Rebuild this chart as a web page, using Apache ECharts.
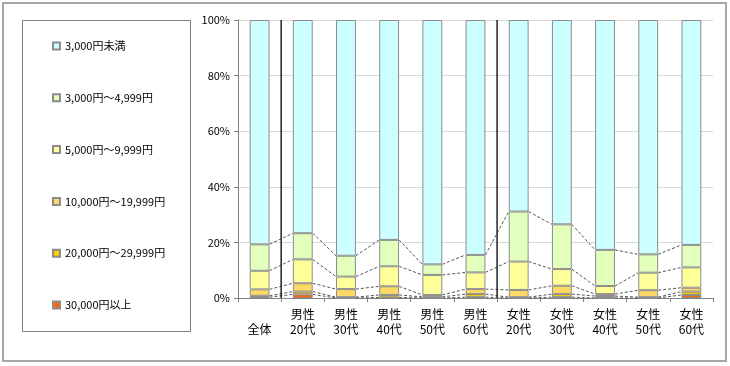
<!DOCTYPE html>
<html><head><meta charset="utf-8">
<script src="https://cdn.jsdelivr.net/npm/echarts@6/dist/echarts.min.js"></script>
<style>html,body{margin:0;padding:0;background:#fff}#c{width:730px;height:366px}</style>
</head><body><div id="c"></div>
<script>
var categories = ['全体','男性\n20代','男性\n30代','男性\n40代','男性\n50代','男性\n60代','女性\n20代','女性\n30代','女性\n40代','女性\n50代','女性\n60代'];
var seriesNames = ['30,000円以上','20,000円～29,999円','10,000円～19,999円','5,000円～9,999円','3,000円～4,999円','3,000円未満'];
var s30000 = [0.3, 1.3, 0.0, 0.2, 0.0, 0.3, 0.0, 0.3, 0.0, 0.0, 1.1];
var s20000 = [0.5, 1.0, 0.3, 0.9, 0.4, 1.1, 0.3, 1.1, 0.7, 0.3, 1.2];
var s10000 = [2.3, 3.0, 2.9, 3.1, 0.7, 1.8, 2.6, 3.0, 0.7, 2.5, 1.4];
var s5000  = [6.7, 8.6, 4.5, 7.2, 7.2, 6.0, 10.2, 6.0, 2.9, 6.3, 7.3];
var s3000  = [9.5, 9.4, 7.5, 9.5, 3.8, 6.3, 18.0, 16.1, 13.0, 6.6, 8.1];
var sUnder = [80.7, 76.7, 84.8, 79.1, 87.9, 84.5, 68.9, 73.5, 82.7, 84.3, 80.9];
var yTicks = [0, 20, 40, 60, 80, 100];
var separatorsAfter = [0, 5];

var values = [s30000, s20000, s10000, s5000, s3000, sUnder];
var colors = ['#FF6600', '#FFCC00', '#FFD966', '#FFFF99', '#E2FFBC', '#CCFFFF'];
var BAR_RATIO = 0.46;

// cumulative levels for series lines
var cum = values.map(function(){return [];});
for (var i = 0; i < categories.length; i++) {
  var acc = 0;
  for (var k = 0; k < values.length; k++) { acc += values[k][i]; cum[k][i] = acc; }
}

var font = '"Noto Sans CJK JP", "Noto Sans", sans-serif';
var chart = echarts.init(document.getElementById('c'));
var barSeries = seriesNames.map(function(n, k){
  return {
    name: n, type: 'bar', stack: 'total', barWidth: (BAR_RATIO*100)+'%',
    data: values[k],
    itemStyle: {color: colors[k], borderColor: '#8c8c8c', borderWidth: 1},
    emphasis: {disabled: true}, z: 3
  };
});
var custom = {
  type: 'custom', name: 'lines', silent: true, z: 2,
  data: categories.map(function(c, i){ return [i, 0]; }),
  renderItem: function(params, api){
    var i = api.value(0);
    var band = api.size([1, 0])[0];
    var hw = band * BAR_RATIO / 2;
    var children = [];
    if (i < categories.length - 1) {
      for (var k = 0; k < 5; k++) {
        var p1 = api.coord([i, cum[k][i]]);
        var p2 = api.coord([i+1, cum[k][i+1]]);
        children.push({type: 'line', shape: {x1: p1[0]+hw, y1: p1[1], x2: p2[0]-hw, y2: p2[1]},
          style: {stroke: '#555', lineWidth: 1, lineDash: [3, 2]}});
      }
    }
    if (separatorsAfter.indexOf(i) >= 0) {
      var b = api.coord([i, 0]), t = api.coord([i, 100]);
      children.push({type: 'line', shape: {x1: b[0]+band/2, y1: b[1], x2: b[0]+band/2, y2: t[1]},
        style: {stroke: '#222', lineWidth: 1.5}});
    }
    return {type: 'group', children: children};
  }
};

chart.setOption({
  animation: false,
  textStyle: {fontFamily: font},
  graphic: [
    {type: 'rect', shape: {x: 3, y: 3, width: 723, height: 358}, style: {fill: 'none', stroke: '#a6a6a6', lineWidth: 2}},
    {type: 'rect', shape: {x: 22.5, y: 20.5, width: 168, height: 311}, style: {fill: 'none', stroke: '#7f7f7f', lineWidth: 1}}
  ],
  legend: {
    orient: 'vertical', left: 47, top: 34,
    data: seriesNames.slice().reverse(),
    icon: 'rect', itemWidth: 7, itemHeight: 7, itemGap: 37.8,
    textStyle: {fontSize: 11, color: '#000', fontFamily: font, lineHeight: 14},
    selectedMode: false
  },
  grid: {left: 238, right: 17, top: 20, bottom: 68},
  xAxis: {
    type: 'category', data: categories,
    axisLine: {lineStyle: {color: '#808080'}},
    axisTick: {show: true, length: 4, lineStyle: {color: '#808080'}},
    axisLabel: {color: '#000', fontSize: 12, lineHeight: 15, margin: 9, interval: 0,
      formatter: function(v){ return v.indexOf('\n') < 0 ? '\u3000\n' + v : v; }}
  },
  yAxis: {
    type: 'value', min: 0, max: 100, interval: 20,
    axisLine: {show: true, lineStyle: {color: '#808080'}},
    axisTick: {show: true, length: 4, lineStyle: {color: '#808080'}},
    splitLine: {lineStyle: {color: '#d9d9d9'}},
    axisLabel: {color: '#000', fontSize: 11, margin: 8, formatter: function(v){ return v + '%'; }}
  },
  series: barSeries.concat([custom])
});
</script></body></html>
